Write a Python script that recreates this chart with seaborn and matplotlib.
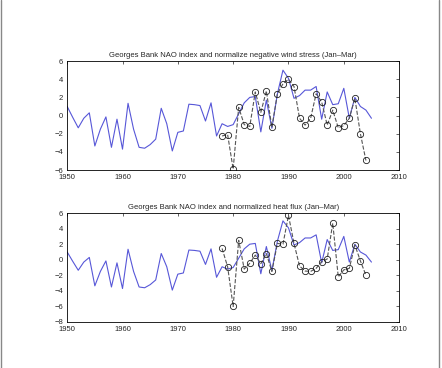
import numpy as np
import pandas as pd
import matplotlib
matplotlib.use("Agg")
import matplotlib.pyplot as plt
import seaborn as sns

# NAO index, 1950-2005
nao_years = list(range(1950, 2006))
nao = [1.0, -0.2, -1.35, -0.3, 0.3, -3.35, -1.5, -0.15, -3.5, -0.4,
       -3.7, 1.35, -1.5, -3.5, -3.6, -3.2, -2.6, 0.8, -0.9, -3.9,
       -1.85, -1.7, 1.25, 1.2, 1.1, -0.6, 1.4, -2.25, -0.9, -1.2,
       -1.0, 0.2, 1.4, 2.0, 2.1, -1.8, 1.7, -1.4, 2.4, 5.0,
       4.1, 1.9, 2.2, 2.8, 2.8, 3.2, -0.4, 2.6, 1.2, 1.3,
       3.0, -0.3, 2.0, 1.0, 0.6, -0.3]

# normalized series, 1978-2004
obs_years = list(range(1978, 2005))
wind = [-2.25, -2.1, -5.9, 0.9, -1.0, -1.2, 2.6, 0.35, 2.7, -1.3,
        2.4, 3.5, 4.0, 3.2, -0.3, -1.05, -0.3, 2.4, 1.5, -1.05,
        0.6, -1.35, -1.1, -0.3, 1.9, -2.0, -4.95]
heat = [1.45, -0.9, -6.0, 2.5, -1.2, -0.45, 0.6, -0.5, 0.8, -1.5,
        2.1, 2.0, 5.7, 2.1, -0.8, -1.45, -1.5, -1.1, -0.25, 0.1,
        4.7, -2.2, -1.3, -1.1, 1.9, -0.15, -2.0]

titles = ["Georges Bank NAO index and normalize negative wind stress (Jan\u2013Mar)",
          "Georges Bank NAO index and normalized heat flux (Jan\u2013Mar)"]

sns.set_style("white")
plt.rcParams['font.family'] = ['Liberation Sans', 'DejaVu Sans']

fig = plt.figure(figsize=(4.42, 3.68), dpi=100)
ax1 = fig.add_axes([0.152, 0.538, 0.751, 0.296])
ax2 = fig.add_axes([0.152, 0.125, 0.751, 0.296])

nao_df = pd.DataFrame({"year": nao_years, "nao": nao})

for ax, series, title, ylim in [(ax1, wind, titles[0], (-6, 6)),
                                (ax2, heat, titles[1], (-8, 6))]:
    obs_df = pd.DataFrame({"year": obs_years, "val": series})
    sns.lineplot(data=nao_df, x="year", y="nao", ax=ax, color="#5757d8",
                 linewidth=0.8)
    sns.lineplot(data=obs_df, x="year", y="val", ax=ax, color="#555555",
                 linewidth=0.8, dashes=(5, 3), linestyle="--")
    ax.plot(obs_df["year"], obs_df["val"], "o", mfc="none", mec="#222222",
            ms=4.5, mew=0.6)
    ax.set_xlim(1950, 2010)
    ax.set_ylim(*ylim)
    ax.set_xticks(range(1950, 2011, 10))
    ax.set_yticks(range(ylim[0], ylim[1] + 1, 2))
    ax.tick_params(direction="in", length=2.5, width=0.5, labelsize=5.5,
                   top=True, right=True)
    ax.tick_params(axis="x", pad=3)
    ax.tick_params(axis="y", pad=3)
    ax.set_xlabel("")
    ax.set_ylabel("")
    ax.set_title(title, fontsize=5.5, pad=3)
    for s in ax.spines.values():
        s.set_linewidth(0.6)
        s.set_color("black")

# grey page edges
fig.add_artist(plt.Line2D([0.003, 0.003], [0, 1], color="#888888", lw=1))
fig.add_artist(plt.Line2D([0.993, 0.993], [0, 1], color="#888888", lw=1))

fig.savefig("out.png", dpi=100, facecolor="white")
